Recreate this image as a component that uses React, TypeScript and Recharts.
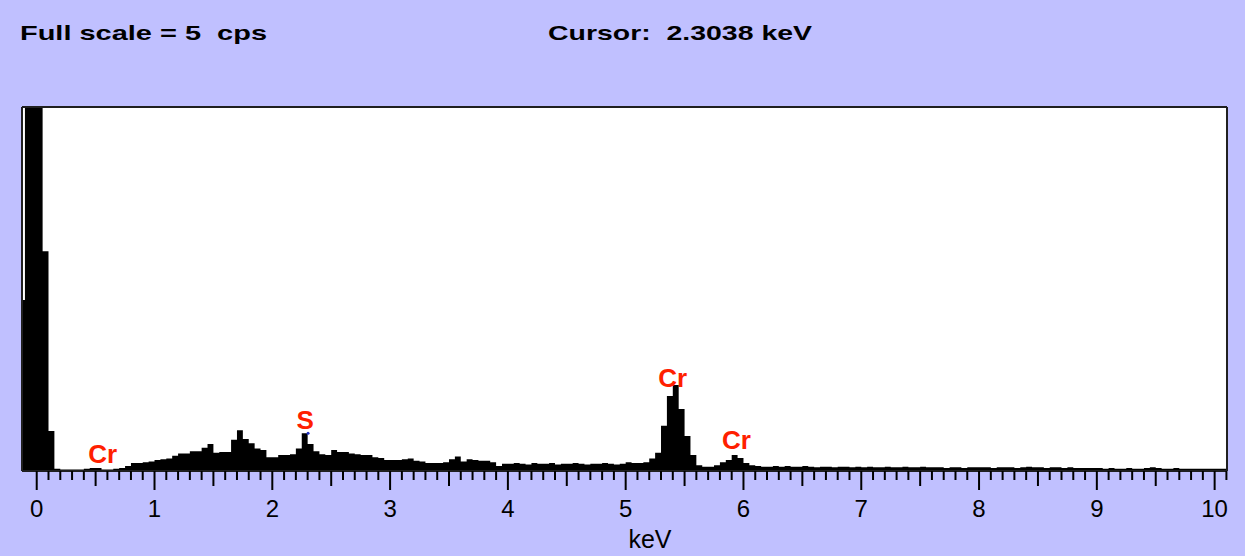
import {
  ComposedChart,
  Area,
  XAxis,
  YAxis,
  CartesianGrid,
  ReferenceLine,
  ReferenceDot,
} from "recharts";

// EDS spectrum, channels 0.05 keV wide starting at -0.10 keV, values in cps
const CHANNEL_START = -0.1;
const CHANNEL_WIDTH = 0.05;
const leadingEdge = { keV: -0.125, cps: 2.35 };

const countsNoise = [9, 9]; // -0.10 .. -0.05 (off scale)
const counts0 = [
  9, 3.02, 0.55, 0.03, 0.02, 0.02, 0.02, 0.02, 0.03, 0.04,
  0.04, 0.02, 0.02, 0.03, 0.04, 0.07, 0.11, 0.11, 0.12, 0.13,
];
const counts1 = [
  0.15, 0.16, 0.17, 0.21, 0.24, 0.24, 0.27, 0.27, 0.32, 0.37,
  0.25, 0.26, 0.26, 0.43, 0.56, 0.44, 0.38, 0.31, 0.29, 0.19,
];
const counts2 = [
  0.19, 0.22, 0.22, 0.23, 0.31, 0.52, 0.37, 0.27, 0.23, 0.22,
  0.29, 0.26, 0.26, 0.24, 0.23, 0.22, 0.22, 0.19, 0.18, 0.15,
];
const counts3 = [
  0.15, 0.15, 0.16, 0.17, 0.14, 0.13, 0.11, 0.11, 0.11, 0.12,
  0.16, 0.2, 0.13, 0.16, 0.15, 0.14, 0.14, 0.12, 0.07, 0.1,
];
const counts4 = [
  0.1, 0.11, 0.1, 0.09, 0.11, 0.1, 0.1, 0.11, 0.09, 0.1,
  0.1, 0.11, 0.1, 0.09, 0.1, 0.1, 0.11, 0.1, 0.09, 0.1,
];
const counts5 = [
  0.12, 0.11, 0.11, 0.12, 0.17, 0.25, 0.62, 1.03, 1.18, 0.85,
  0.48, 0.22, 0.08, 0.06, 0.06, 0.08, 0.12, 0.15, 0.22, 0.18,
];
const counts6 = [
  0.11, 0.08, 0.07, 0.06, 0.06, 0.07, 0.06, 0.07, 0.06, 0.06,
  0.07, 0.06, 0.05, 0.06, 0.06, 0.05, 0.06, 0.06, 0.05, 0.06,
];
const counts7 = [
  0.05, 0.06, 0.05, 0.05, 0.06, 0.05, 0.05, 0.06, 0.05, 0.05,
  0.06, 0.05, 0.05, 0.05, 0.04, 0.05, 0.05, 0.04, 0.05, 0.05,
];
const counts8 = [
  0.05, 0.05, 0.04, 0.05, 0.05, 0.05, 0.04, 0.05, 0.06, 0.05,
  0.05, 0.04, 0.05, 0.05, 0.04, 0.05, 0.04, 0.04, 0.04, 0.04,
];
const counts9 = [
  0.04, 0.03, 0.04, 0.03, 0.03, 0.04, 0.03, 0.03, 0.04, 0.05,
  0.04, 0.03, 0.03, 0.04, 0.03, 0.03, 0.03, 0.03, 0.03, 0.03,
];
const counts10 = [0.03, 0.03];

// peak markers
const peakNames = ["Cr", "S", "Cr", "Cr"];
const peakKeV = [0.56, 2.28, 5.4, 5.94];
const peakLabelCps = [0.11, 0.58, 1.15, 0.3];
const cursorKeV = 2.3038;
const cursorCps = 0.52;

const majorLabels = ["0", "1", "2", "3", "4", "5", "6", "7", "8", "9", "10"];
const X_MIN = -0.125;
const X_MAX = 10.105;
const FULL_SCALE = 5;

const allCounts = [
  ...countsNoise, ...counts0, ...counts1, ...counts2, ...counts3, ...counts4,
  ...counts5, ...counts6, ...counts7, ...counts8, ...counts9, ...counts10,
];

const data = [
  leadingEdge,
  ...allCounts.map((cps, i) => ({
    keV: Math.round((CHANNEL_START + i * CHANNEL_WIDTH) * 1000) / 1000,
    cps,
  })),
  { keV: X_MAX, cps: allCounts[allCounts.length - 1] },
];

// ticks every 0.1 keV, 0 .. 10.1
const tickValues = Array.from({ length: 102 }, (_, i) => i / 10);

const FONT = "'Liberation Sans', Arial, sans-serif";
const RED = "#ff2000";

function KevTick({ x, y, payload }: any) {
  const step = Math.round(payload.value * 10);
  const len = step % 10 === 0 ? 19 : step % 5 === 0 ? 15 : 9;
  return (
    <g>
      <line x1={x} x2={x} y1={y} y2={y + len} stroke="#000" strokeWidth={2} />
      {step % 10 === 0 && (
        <text
          x={x}
          y={y + 46}
          textAnchor="middle"
          fontSize={24}
          fontFamily={FONT}
          fill="#000"
        >
          {majorLabels[step / 10]}
        </text>
      )}
    </g>
  );
}

export default function App() {
  return (
    <div
      style={{
        position: "absolute",
        left: 0,
        top: 0,
        width: 1245,
        height: 556,
        background: "#c0c0ff",
        overflow: "hidden",
      }}
    >
      <ComposedChart
        width={1245}
        height={556}
        data={data}
        margin={{ top: 107, right: 18, bottom: 25, left: 22 }}
      >
        <CartesianGrid horizontal={false} vertical={false} fill="#ffffff" />
        <XAxis
          dataKey="keV"
          type="number"
          domain={[X_MIN, X_MAX]}
          allowDataOverflow
          ticks={tickValues}
          interval={0}
          tick={<KevTick />}
          tickLine={false}
          axisLine={false}
          tickSize={0}
          tickMargin={0}
          height={60}
        />
        <YAxis hide domain={[0, FULL_SCALE]} allowDataOverflow />
        <Area
          type="stepAfter"
          dataKey="cps"
          stroke="none"
          fill="#000"
          fillOpacity={1}
          baseValue={0}
          dot={false}
          activeDot={false}
          isAnimationActive={false}
        />
        <ReferenceLine x={X_MIN} stroke="#202020" strokeWidth={2} ifOverflow="visible" />
        <ReferenceLine x={X_MAX} stroke="#202020" strokeWidth={2} ifOverflow="visible" />
        <ReferenceLine y={FULL_SCALE} stroke="#202020" strokeWidth={2} ifOverflow="visible" />
        <ReferenceLine y={0} stroke="#202020" strokeWidth={2} ifOverflow="visible" />
        <ReferenceDot
          x={cursorKeV}
          y={cursorCps}
          r={1.5}
          fill="#2030c0"
          stroke="none"
        />
        {peakNames.map((name, i) => (
          <ReferenceDot
            key={i}
            x={peakKeV[i]}
            y={peakLabelCps[i]}
            r={0}
            stroke="none"
            fill="none"
            label={{
              value: name,
              position: "top",
              offset: 0,
              fill: RED,
              fontSize: 26,
              fontWeight: "bold",
              fontFamily: FONT,
            }}
          />
        ))}
      </ComposedChart>
      <svg
        width={1245}
        height={556}
        style={{ position: "absolute", left: 0, top: 0, pointerEvents: "none" }}
      >
        <text
          x={20}
          y={40}
          fontSize={21}
          fontWeight="bold"
          fontFamily={FONT}
          textLength={247}
          lengthAdjust="spacingAndGlyphs"
          style={{ whiteSpace: "pre" }}
        >
          Full scale = 5  cps
        </text>
        <text
          x={548}
          y={40}
          fontSize={21}
          fontWeight="bold"
          fontFamily={FONT}
          textLength={264}
          lengthAdjust="spacingAndGlyphs"
          style={{ whiteSpace: "pre" }}
        >
          Cursor:  2.3038 keV
        </text>
        <text x={650} y={548} textAnchor="middle" fontSize={25} fontFamily={FONT}>
          keV
        </text>
      </svg>
    </div>
  );
}
